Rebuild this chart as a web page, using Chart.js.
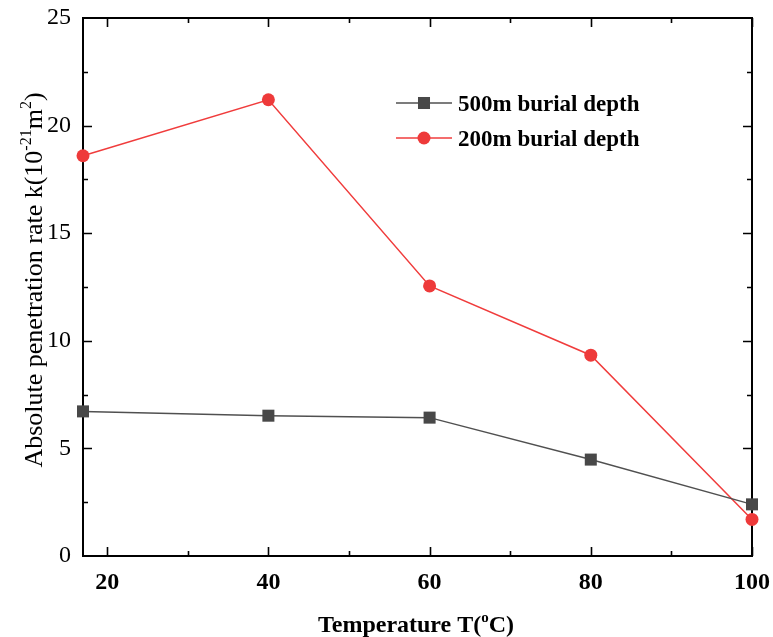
<!DOCTYPE html>
<html>
<head>
<meta charset="utf-8">
<style>
  html, body { margin: 0; padding: 0; background: #fff; }
  #wrap { width: 773px; height: 637px; }
</style>
<script src="https://cdn.jsdelivr.net/npm/chart.js@4/dist/chart.umd.min.js"></script>
</head>
<body>
<div id="wrap"><canvas id="chart"></canvas></div>
<script>
// Temperature (C) and absolute penetration rate k (10^-21 m^2)
const temps = [17, 40, 60, 80, 100];
const depth500 = [6.72, 6.52, 6.43, 4.48, 2.4];
const depth200 = [18.6, 21.2, 12.55, 9.33, 1.7];

const xTicks = [20, 40, 60, 80, 100];
const xMinor = [30, 50, 70, 90];
const yMinor = [2.5, 7.5, 12.5, 17.5, 22.5];

const serif = "'Liberation Serif', 'Times New Roman', serif";
const grey = '#505050';
const red = '#f03c3c';

// draws the box frame with inward ticks on all four sides
const framePlugin = {
  id: 'frame',
  beforeDatasetsDraw(chart) {
    const { ctx, chartArea: a, scales: { x, y } } = chart;
    ctx.save();
    ctx.strokeStyle = '#000';
    ctx.lineWidth = 2;
    ctx.strokeRect(a.left, a.top, a.right - a.left, a.bottom - a.top);
    ctx.lineWidth = 1.6;
    const major = 9, minor = 5;
    ctx.beginPath();
    xTicks.concat(xMinor).forEach(v => {
      const len = xTicks.includes(v) ? major : minor;
      const px = Math.round(x.getPixelForValue(v)) + 0.5;
      ctx.moveTo(px, a.bottom); ctx.lineTo(px, a.bottom - len);
      ctx.moveTo(px, a.top); ctx.lineTo(px, a.top + len);
    });
    const yMajor = [5, 10, 15, 20];
    yMajor.concat(yMinor).forEach(v => {
      const len = yMajor.includes(v) ? major : minor;
      const py = Math.round(y.getPixelForValue(v)) + 0.5;
      ctx.moveTo(a.left, py); ctx.lineTo(a.left + len, py);
      ctx.moveTo(a.right, py); ctx.lineTo(a.right - len, py);
    });
    ctx.stroke();
    ctx.restore();
  }
};

// axis titles with superscripts, and the legend inside the plot
const textPlugin = {
  id: 'texts',
  afterDraw(chart) {
    const { ctx, chartArea: a } = chart;
    ctx.save();
    ctx.fillStyle = '#000';
    ctx.textBaseline = 'alphabetic';

    function runs(parts, x0, y0) {
      let x = x0;
      parts.forEach(p => {
        ctx.font = p.font;
        ctx.fillText(p.t, x, y0 + (p.dy || 0));
        x += ctx.measureText(p.t).width;
      });
    }
    function width(parts) {
      let w = 0;
      parts.forEach(p => { ctx.font = p.font; w += ctx.measureText(p.t).width; });
      return w;
    }

    // x title
    const bx = 'bold 24px ' + serif, bs = 'bold 15px ' + serif;
    const xt = [{ t: 'Temperature T(', font: bx }, { t: 'o', font: bs, dy: -10 }, { t: 'C)', font: bx }];
    runs(xt, 416 - width(xt) / 2, 632);

    // y title, rotated
    const ry = '26px ' + serif, rs = '16px ' + serif;
    const yt = [{ t: 'Absolute penetration rate k(10', font: ry }, { t: '-21', font: rs, dy: -11 },
      { t: 'm', font: ry }, { t: '2', font: rs, dy: -11 }, { t: ')', font: ry }];
    ctx.translate(42, 280);
    ctx.rotate(-Math.PI / 2);
    runs(yt, -width(yt) / 2, 0);
    ctx.setTransform(1, 0, 0, 1, 0, 0);

    // legend
    const items = chart.data.datasets;
    ctx.font = 'bold 23px ' + serif;
    items.forEach((ds, i) => {
      const ly = 103 + i * 35;
      ctx.strokeStyle = ds.borderColor;
      ctx.lineWidth = 1.5;
      ctx.beginPath(); ctx.moveTo(396, ly); ctx.lineTo(452, ly); ctx.stroke();
      ctx.fillStyle = ds.pointBackgroundColor;
      ctx.beginPath();
      if (ds.pointStyle === 'rect') {
        const s = ds.pointRadius * Math.SQRT1_2;
        ctx.fillRect(424 - s, ly - s, 2 * s, 2 * s);
      } else {
        ctx.arc(424, ly, ds.pointRadius, 0, Math.PI * 2);
        ctx.fill();
      }
      ctx.fillStyle = '#000';
      ctx.fillText(ds.label, 458, ly + 8);
    });
    ctx.restore();
  }
};

new Chart(document.getElementById('chart'), {
  type: 'line',
  data: {
    datasets: [
      {
        label: '500m burial depth',
        data: temps.map((t, i) => ({ x: t, y: depth500[i] })),
        borderColor: grey,
        pointBackgroundColor: '#484848',
        pointBorderWidth: 0,
        pointStyle: 'rect',
        pointRadius: 8.5,
        borderWidth: 1.5,
        clip: false
      },
      {
        label: '200m burial depth',
        data: temps.map((t, i) => ({ x: t, y: depth200[i] })),
        borderColor: red,
        pointBackgroundColor: '#ee3a3a',
        pointBorderWidth: 0,
        pointStyle: 'circle',
        pointRadius: 6.5,
        borderWidth: 1.5,
        clip: false
      }
    ]
  },
  options: {
    responsive: true,
    maintainAspectRatio: false,
    animation: false,
    layout: { padding: { top: 18, right: 21, left: 0, bottom: 0 } },
    plugins: { legend: { display: false }, tooltip: { enabled: false } },
    scales: {
      x: {
        type: 'linear',
        min: 17,
        max: 100,
        afterBuildTicks: scale => { scale.ticks = xTicks.map(v => ({ value: v })); },
        afterFit: scale => {
          scale.height = 81;
          scale.paddingLeft = 0;
          scale.paddingRight = 0;
        },
        grid: { display: false, drawTicks: false },
        border: { display: false },
        ticks: { color: '#000', padding: 12, font: { family: serif, size: 24, weight: 'bold' } }
      },
      y: {
        min: 0,
        max: 25,
        afterFit: scale => {
          scale.width = 83;
          scale.paddingTop = 0;
          scale.paddingBottom = 0;
        },
        grid: { display: false, drawTicks: false },
        border: { display: false },
        ticks: { stepSize: 5, color: '#000', padding: 12, font: { family: serif, size: 24 } }
      }
    }
  },
  plugins: [framePlugin, textPlugin]
});
</script>
</body>
</html>
